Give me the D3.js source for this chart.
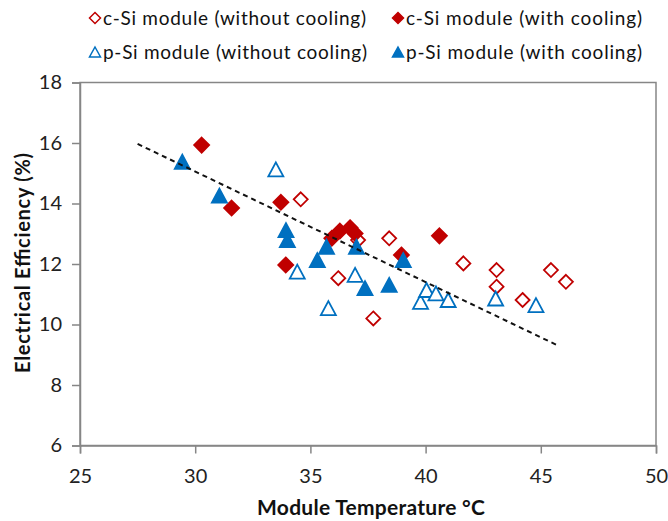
<!DOCTYPE html>
<html>
<head>
<meta charset="utf-8">
<script src="https://cdn.jsdelivr.net/npm/d3@7"></script>
<style>
  html, body { margin: 0; padding: 0; background: #fff; }
  svg { display: block; font-family: Lato, "Open Sans", sans-serif; }
</style>
</head>
<body>
<svg id="chart" width="668" height="521"></svg>
<script>
// c-Si module, without cooling (open red diamonds)
const cSiOpenT = [34.58, 36.21, 37.07, 38.42, 37.73, 41.64, 43.08, 43.08, 44.21, 45.44, 46.09];
const cSiOpenE = [14.14, 11.53, 12.79, 12.85, 10.20, 12.02, 11.80, 11.25, 10.81, 11.80, 11.41];

// c-Si module, with cooling (filled red diamonds)
const cSiFillT = [30.28, 31.58, 33.72, 33.93, 35.93, 36.28, 36.72, 36.94, 38.95, 40.60];
const cSiFillE = [15.93, 13.85, 14.04, 11.97, 12.85, 13.09, 13.20, 13.01, 12.30, 12.93];

// p-Si module, without cooling (open blue triangles)
const pSiOpenT = [33.50, 34.43, 35.78, 36.94, 39.78, 40.04, 40.45, 40.98, 43.04, 44.79];
const pSiOpenE = [15.13, 11.75, 10.54, 11.64, 10.75, 11.14, 11.03, 10.81, 10.86, 10.64];

// p-Si module, with cooling (filled blue triangles)
const pSiFillT = [29.44, 31.05, 33.94, 34.00, 35.30, 35.70, 37.00, 37.37, 38.42, 39.03];
const pSiFillE = [15.38, 14.26, 13.12, 12.79, 12.13, 12.57, 12.57, 11.20, 11.31, 12.13];

// linear trend line end points
const trendT = [27.5, 45.7];
const trendE = [15.97, 9.32];

const xTicks = [25, 30, 35, 40, 45, 50];
const yTicks = [6, 8, 10, 12, 14, 16, 18];

const legendLabels = [
  "c-Si module (without cooling)",
  "c-Si module (with cooling)",
  "p-Si module (without cooling)",
  "p-Si module (with cooling)"
];

const RED = "#C00000", BLUE = "#0070C0", AXIS = "#868686";
const FONT = "Lato, 'Open Sans', sans-serif";

const svg = d3.select("#chart");
const plot = { left: 80, right: 656, top: 82.5, bottom: 445.5 };

const x = d3.scaleLinear().domain([25, 50]).range([plot.left, plot.right]);
const y = d3.scaleLinear().domain([6, 18]).range([plot.bottom, plot.top]);

// plot frame
svg.append("rect")
  .attr("x", plot.left).attr("y", plot.top)
  .attr("width", plot.right - plot.left).attr("height", plot.bottom - plot.top)
  .attr("fill", "none").attr("stroke", AXIS).attr("stroke-width", 1.5);

// axes
const xAxis = svg.append("g")
  .attr("transform", `translate(0,${plot.bottom})`)
  .call(d3.axisBottom(x).tickValues(xTicks).tickSize(8).tickPadding(15).tickFormat(d3.format("d")));
const yAxis = svg.append("g")
  .attr("transform", `translate(${plot.left},0)`)
  .call(d3.axisLeft(y).tickValues(yTicks).tickSize(8).tickPadding(10).tickFormat(d3.format("d")));

[xAxis, yAxis].forEach(g => {
  g.select(".domain").attr("stroke", AXIS).attr("stroke-width", 1.5);
  g.selectAll(".tick line").attr("stroke", AXIS).attr("stroke-width", 1.5);
  g.selectAll(".tick text").attr("fill", "#222").style("font-size", "20px").style("font-family", FONT);
});

// axis titles
svg.append("text")
  .attr("x", (plot.left + plot.right) / 2 + 3).attr("y", 515)
  .attr("text-anchor", "middle")
  .attr("textLength", 228).attr("lengthAdjust", "spacing")
  .style("font-size", "21px").style("font-weight", "bold").style("font-family", FONT).attr("fill", "#111")
  .text("Module Temperature \u00B0C");

svg.append("text")
  .attr("transform", `translate(30,263) rotate(-90)`)
  .attr("text-anchor", "middle")
  .attr("textLength", 220).attr("lengthAdjust", "spacing")
  .style("font-size", "20px").style("font-weight", "bold").style("font-family", FONT).attr("fill", "#111")
  .text("Electrical Efficiency (%)");

// marker shapes
const diamond = r => `M0,${-r}L${r},0L0,${r}L${-r},0Z`;
const triangle = (w, h) => `M0,${-h / 2}L${w / 2},${h / 2}L${-w / 2},${h / 2}Z`;

const series = [
  { t: cSiOpenT, e: cSiOpenE, path: diamond(7), fill: "#fff", stroke: RED, legendPath: diamond(5.5) },
  { t: cSiFillT, e: cSiFillE, path: diamond(7.5), fill: RED, stroke: RED, legendPath: diamond(5.5) },
  { t: pSiOpenT, e: pSiOpenE, path: triangle(15, 14), fill: "#fff", stroke: BLUE, legendPath: triangle(11, 10) },
  { t: pSiFillT, e: pSiFillE, path: triangle(15, 14), fill: BLUE, stroke: BLUE, legendPath: triangle(11, 10) }
];

series.forEach(s => {
  svg.append("g").selectAll("path")
    .data(s.t.map((t, i) => [t, s.e[i]]))
    .join("path")
    .attr("d", s.path)
    .attr("transform", d => `translate(${x(d[0])},${y(d[1])})`)
    .attr("fill", s.fill)
    .attr("stroke", s.stroke)
    .attr("stroke-width", 1.8);
});

// dashed linear trend line
svg.append("path")
  .datum(trendT.map((t, i) => [t, trendE[i]]))
  .attr("d", d3.line().x(d => x(d[0])).y(d => y(d[1])))
  .attr("fill", "none").attr("stroke", "#111").attr("stroke-width", 2)
  .attr("stroke-dasharray", "5,4");

// legend
const legendPos = [[95, 18], [398, 18], [95, 52], [398, 52]];
const legendWidths = [263, 236, 264, 236];
series.forEach((s, i) => {
  const [lx, ly] = legendPos[i];
  svg.append("path")
    .attr("d", s.legendPath)
    .attr("transform", `translate(${lx},${ly})`)
    .attr("fill", s.fill).attr("stroke", s.stroke).attr("stroke-width", 1.5);
  svg.append("text")
    .attr("x", lx + 8).attr("y", ly)
    .attr("dy", "0.35em")
    .attr("textLength", legendWidths[i]).attr("lengthAdjust", "spacing")
    .style("font-size", "19px").style("font-family", FONT).attr("fill", "#111")
    .text(legendLabels[i]);
});
</script>
</body>
</html>
